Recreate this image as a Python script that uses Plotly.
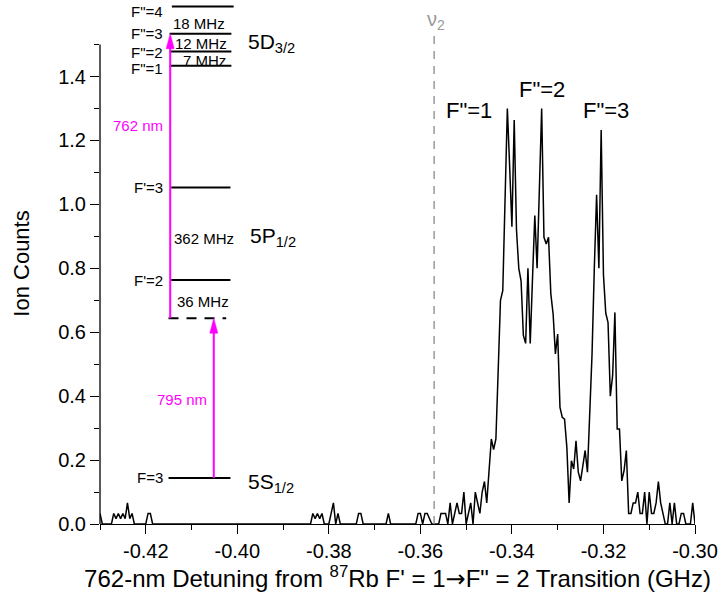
import plotly.graph_objects as go

# 762-nm scan: detuning grid (GHz)
SCAN_START = -0.43
SCAN_STEP = 0.0005

# Ion counts at each detuning step of the scan
ion_counts = [
    0.033, 0, 0, 0, 0, 0, 0.033, 0.017, 0.033, 0.017,            # 0-9
    0.033, 0.017, 0.066, 0.017, 0.033, 0, 0, 0, 0, 0,            # 10-19
    0, 0.033, 0.033, 0, 0, 0, 0, 0, 0, 0,                        # 20-29
    0, 0, 0, 0, 0, 0, 0, 0, 0, 0,                                # 30-39
    0, 0, 0, 0, 0, 0, 0, 0, 0, 0,                                # 40-49
    0, 0, 0, 0, 0, 0, 0, 0, 0, 0,                                # 50-59
    0, 0, 0, 0, 0, 0, 0, 0, 0, 0,                                # 60-69
    0, 0, 0, 0, 0, 0, 0, 0, 0, 0,                                # 70-79
    0, 0, 0, 0, 0, 0, 0, 0, 0, 0,                                # 80-89
    0, 0, 0, 0.033, 0.017, 0.033, 0.017, 0.033, 0, 0,            # 90-99
    0, 0.033, 0.066, 0, 0.033, 0, 0, 0, 0, 0,                    # 100-109
    0, 0, 0, 0.033, 0.033, 0, 0, 0, 0, 0,                        # 110-119
    0, 0, 0, 0, 0, 0, 0.033, 0, 0, 0,                            # 120-129
    0, 0, 0, 0, 0, 0, 0, 0, 0, 0.033,                            # 130-139
    0.033, 0, 0.033, 0.033, 0.017, 0, 0, 0, 0, 0.033,            # 140-149
    0.033, 0.033, 0, 0.066, 0, 0.033, 0.066, 0.033, 0.033, 0.1,  # 150-159
    0, 0.033, 0.066, 0, 0.1, 0.066, 0.033, 0.1, 0.133, 0.066,    # 160-169
    0.166, 0.266, 0.233, 0.266, 0.48, 0.70, 0.73, 1.0, 1.30, 1.12,   # 170-179
    0.93, 1.264, 0.92, 0.80, 0.76, 0.59, 0.565, 0.80, 0.565, 0.77,   # 180-189
    0.965, 0.80, 1.05, 1.30, 0.897, 0.876, 0.897, 0.72, 0.657, 0.532,  # 190-199
    0.594, 0.365, 0.334, 0.328, 0.24, 0.066, 0.198, 0.172, 0.26, 0.162,  # 200-209
    0.135, 0.18, 0.23, 0.162, 0.34, 0.53, 0.80, 1.03, 0.80, 1.233,   # 210-219
    0.78, 0.66, 0.63, 0.40, 0.464, 0.662, 0.297, 0.297, 0.135, 0.167,  # 220-229
    0.23, 0.033, 0.033, 0.066, 0.066, 0.1, 0.033, 0.033, 0.1, 0,     # 230-239
    0.1, 0.033, 0.033, 0.066, 0.133, 0.066, 0.033, 0, 0, 0.066,      # 240-249
    0, 0.066, 0, 0, 0.033, 0.033, 0, 0, 0, 0.066,                    # 250-259
    0,                                                               # 260
]
detuning = [round(SCAN_START + SCAN_STEP * k, 5) for k in range(len(ion_counts))]

# Axis ticks
x_tickvals = [-0.42, -0.40, -0.38, -0.36, -0.34, -0.32, -0.30]
x_ticktext = ["-0.42", "-0.40", "-0.38", "-0.36", "-0.34", "-0.32", "-0.30"]
x_minorvals = [-0.43, -0.41, -0.39, -0.37, -0.35, -0.33, -0.31]
y_tickvals = [0.0, 0.2, 0.4, 0.6, 0.8, 1.0, 1.2, 1.4]
y_ticktext = ["0.0", "0.2", "0.4", "0.6", "0.8", "1.0", "1.2", "1.4"]
y_minorvals = [0.1, 0.3, 0.5, 0.7, 0.9, 1.1, 1.3, 1.5]
Y_AXIS_TOP = 1.5
Y_RANGE = [0, 1.63]
X_RANGE = [-0.43, -0.30]

# Position of the two-photon resonance nu_2
nu2_x = -0.357
nu2_top = 1.546

# Peak labels
peak_names = ['F"=1', 'F"=2', 'F"=3']
peak_x = [-0.3493, -0.3335, -0.3194]
peak_y = [1.294, 1.358, 1.294]

# Level diagram: 5D3/2 hyperfine levels
d_levels = [1.619, 1.534, 1.478, 1.434]
d_names = ['F"=4', 'F"=3', 'F"=2', 'F"=1']
d_name_y = [1.603, 1.534, 1.474, 1.424]
d_gaps = ["18 MHz", "12 MHz", "7 MHz"]
d_gap_y = [1.567, 1.5045, 1.449]
# 5P1/2 hyperfine levels
p_levels = [1.053, 0.763]
p_names = ["F'=3", "F'=2"]
# 5S1/2 level and the virtual (detuned) intermediate level
s_level = 0.144
s_name = "F=3"
virtual_level = 0.644

LEVEL_X0 = -0.4150
LEVEL_X1 = -0.4015
LABEL_X = -0.4159
ARROW_762_X = -0.41466
ARROW_795_X = -0.40514

BLACK = "#000000"
MAGENTA = "#FF00FF"
GREY = "#999999"
FONT = "Liberation Sans, Arial, sans-serif"

fig = go.Figure()
fig.add_trace(go.Scatter(
    x=detuning, y=ion_counts, mode="lines",
    line=dict(color=BLACK, width=1.5), showlegend=False, hoverinfo="skip",
))

shapes = []
annotations = []

# left axis line, stopping at 1.5
shapes.append(dict(type="line", xref="paper", yref="paper", x0=0, x1=0,
                   y0=0, y1=Y_AXIS_TOP / Y_RANGE[1],
                   line=dict(color=BLACK, width=1.3)))

# nu_2 marker
shapes.append(dict(type="line", xref="x", yref="y", x0=nu2_x, x1=nu2_x,
                   y0=0, y1=nu2_top, line=dict(color=GREY, width=1.5, dash="8px,7px")))
annotations.append(dict(x=nu2_x + 0.0004, y=1.574, xref="x", yref="y",
                        text="ν<sub>2</sub>", showarrow=False,
                        font=dict(size=20, color=GREY)))

# peak labels
for name, px, py in zip(peak_names, peak_x, peak_y):
    annotations.append(dict(x=px, y=py, xref="x", yref="y", text=name,
                            showarrow=False, font=dict(size=22, color=BLACK)))

def level(y, x0=LEVEL_X0, x1=LEVEL_X1, dash=None):
    ln = dict(color=BLACK, width=2)
    if dash:
        ln["dash"] = dash
    shapes.append(dict(type="line", xref="x", yref="y", x0=x0, x1=x1,
                       y0=y, y1=y, line=ln))

def label(text, x, y, size=15, anchor="right", color=BLACK):
    annotations.append(dict(x=x, y=y, xref="x", yref="y", text=text,
                            showarrow=False, xanchor=anchor, yanchor="middle",
                            font=dict(size=size, color=color)))

# 5D3/2 manifold
for i, y in enumerate(d_levels):
    if i == 0:
        level(y, -0.4143, -0.4008)
    else:
        level(y, -0.4148, -0.4013)
for name, y in zip(d_names, d_name_y):
    label(name, LABEL_X, y)
gap_x = [-0.4083, -0.4079, -0.4072]
for g, gx, gy in zip(d_gaps, gap_x, d_gap_y):
    label(g, gx, gy, anchor="center")
label("5D<sub>3/2</sub>", -0.3980, 1.505, size=21, anchor="left")

# 5P1/2 manifold
for name, y in zip(p_names, p_levels):
    level(y, -0.41444)
    label(name, LABEL_X, y)
label("362 MHz", -0.40717, 0.8946, anchor="center")
label("36 MHz", -0.40754, 0.696, anchor="center")
label("5P<sub>1/2</sub>", -0.39777, 0.898, size=21, anchor="left")

# virtual level reached by the 795-nm laser
level(virtual_level, -0.41503, -0.40243, dash="10px,8px")

# 5S1/2 ground level
level(s_level, -0.41503)
label(s_name, LABEL_X, s_level)
label("5S<sub>1/2</sub>", -0.3980, 0.128, size=21, anchor="left")

# laser arrows
def arrow(x, y_from, y_tip):
    shapes.append(dict(type="line", xref="x", yref="y", x0=x, x1=x,
                       y0=y_from, y1=y_tip - 0.02,
                       line=dict(color=MAGENTA, width=2)))
    shapes.append(dict(type="path", xref="x", yref="y",
                       xsizemode="pixel", ysizemode="pixel",
                       xanchor=x, yanchor=y_tip,
                       path="M0,0 L-4,-15 L4,-15 Z",
                       fillcolor=MAGENTA, line=dict(color=MAGENTA, width=0.5)))

arrow(ARROW_762_X, virtual_level, d_levels[1])
arrow(ARROW_795_X, s_level, virtual_level)
label("762 nm", LABEL_X, 1.246, color=MAGENTA)
label("795 nm", -0.40608, 0.391, color=MAGENTA)

x_title = ("762-nm Detuning from <sup>87</sup>Rb F' = 1"
           "<span style=\"font-family:DejaVu Sans\">\u2192</span>"
           "F\" = 2 Transition (GHz)")

fig.update_layout(
    width=724, height=605,
    margin=dict(l=100, r=29, t=3, b=81),
    paper_bgcolor="white", plot_bgcolor="white",
    font=dict(family=FONT, color=BLACK),
    shapes=shapes, annotations=annotations,
    showlegend=False,
)
fig.update_xaxes(
    range=X_RANGE, showgrid=False, zeroline=False,
    showline=True, linecolor=BLACK, linewidth=1.3,
    ticks="outside", ticklen=9, tickwidth=1.3, tickcolor=BLACK,
    tickmode="array", tickvals=x_tickvals, ticktext=x_ticktext,
    tickfont=dict(size=20),
    minor=dict(tickmode="array", tickvals=x_minorvals, ticks="outside",
               ticklen=5, tickwidth=1.3, tickcolor=BLACK),
    title=dict(text=x_title, font=dict(size=24), standoff=9),
)
fig.update_yaxes(
    range=Y_RANGE, showgrid=False, zeroline=False, showline=False,
    ticks="outside", ticklen=9, tickwidth=1.3, tickcolor=BLACK,
    tickmode="array", tickvals=y_tickvals, ticktext=y_ticktext,
    tickfont=dict(size=20),
    minor=dict(tickmode="array", tickvals=y_minorvals, ticks="outside",
               ticklen=5, tickwidth=1.3, tickcolor=BLACK),
    title=dict(text="Ion Counts", font=dict(size=22), standoff=22),
)

fig.write_html("out.html")
